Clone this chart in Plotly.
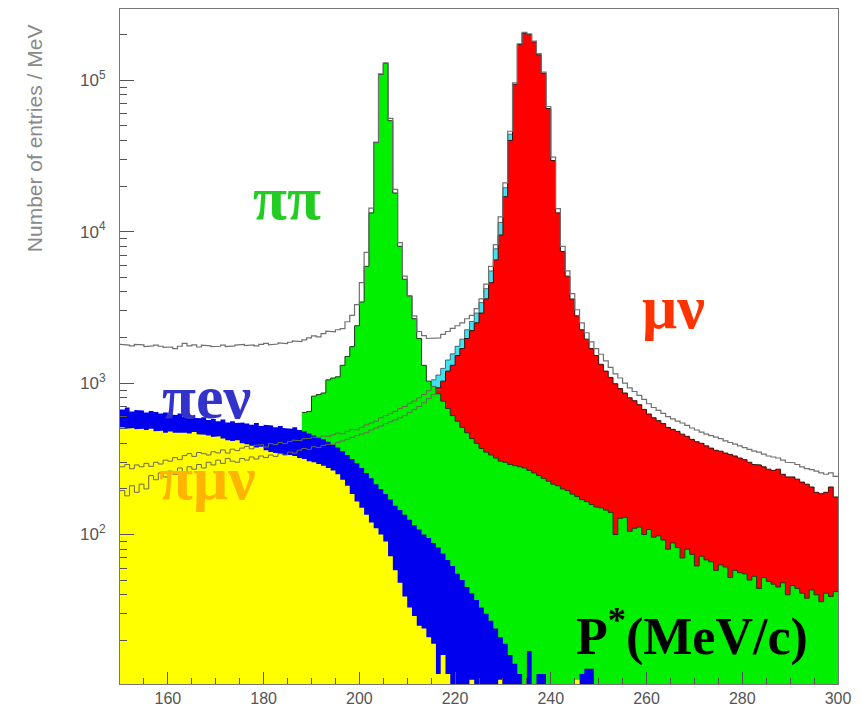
import plotly.graph_objects as go

# ---------------- data (1 MeV bins, value = entries / MeV) ----------------
X_MIN, X_MAX = 150, 300

yellow_start = 150  # pi mu nu
yellow_counts = [
    510, 500, 505, 495, 500, 490, 500, 480, 485, 470,
    478, 470, 475, 470, 465, 475, 460, 455, 450, 440,
    445, 430, 420, 415, 420, 400, 395, 385, 375, 380,
    360, 350, 345, 340, 335, 335, 330, 320, 315, 305,
    300, 292, 285, 275, 265, 250, 230, 210, 185, 165,
    150, 135, 120, 110, 100, 90, 72, 58, 48, 39,
    33, 29, 25, 24, 21, 19, 12, 16, 12, 0,
    0, 0, 0, 11, 0, 0, 0, 0, 0, 11,
    0, 0, 0, 0, 0, 0, 0, 0, 0, 0,
    0, 0, 0, 0, 0, 11]

blue_start = 150  # pi e nu
blue_counts = [
    670, 690, 650, 665, 660, 640, 655, 645, 630, 640,
    620, 615, 630, 600, 610, 590, 585, 595, 570, 580,
    560, 575, 550, 560, 545, 550, 540, 530, 545, 520,
    530, 525, 510, 520, 505, 500, 510, 490, 480, 465,
    450, 440, 425, 410, 395, 375, 355, 335, 315, 295,
    275, 255, 235, 215, 200, 185, 170, 155, 145, 135,
    125, 115, 108, 100, 95, 88, 82, 75, 68, 62,
    55, 50, 45, 41, 37, 33, 30, 27, 24, 21,
    19, 16, 14, 12, 0, 17, 0, 12, 12, 0,
    0, 0, 0, 0, 0, 0, 12, 13, 13, 0]

green_start = 188  # pi pi
green_counts = [
    640, 650, 820, 840, 860, 1050, 1080, 1100, 1310, 1500,
    1740, 2390, 3430, 5900, 13300, 38700, 109000, 129000, 54000, 18000,
    8000, 4850, 3760, 2660, 1970, 1310, 1030,
    950, 850, 760, 680, 610, 560, 510, 470, 430, 400,
    370, 350, 335, 320, 305, 300, 290, 285, 280, 275,
    265, 255, 245, 235, 225, 215, 210, 200, 195, 185,
    178, 170, 165, 158, 152,
    150, 145, 140, 100, 128, 130, 105, 110, 112, 100,
    108, 96, 98, 92, 80, 88, 82, 70, 80, 74,
    62, 72, 68, 66, 58, 63, 61, 52, 58, 56,
    55, 50, 53, 44, 52, 49, 47, 45, 48, 40,
    46, 44, 41, 38, 43, 40, 36, 41, 39, 42]

red_start = 216  # mu nu
red_counts = [
    930, 1030, 1200, 1310, 1520, 1690, 1970, 2220, 2500, 2900,
    3600, 4600, 6500, 9500, 17000, 40000, 94000, 172000, 205000, 200000,
    179000, 147000, 111000, 65000, 29500, 13300, 7400, 5080, 3590, 2780,
    2250, 1950, 1690, 1520,
    1330, 1200, 1090, 990, 920, 860, 800, 765, 720, 670,
    625, 590, 565, 540, 510, 495, 480, 460, 445, 425,
    410, 400, 385, 372, 360, 355, 345, 338, 330, 320,
    312, 300, 290, 288, 280, 270, 265, 270, 250, 240,
    240, 232, 222, 215, 206, 190, 186, 190, 206, 177]

cyan_start = 215
cyan_counts = [1050, 1130, 1250, 1420, 1560, 1750, 1950, 2250, 2550, 2900,
               3400, 4200, 5500, 7700, 11500, 19500, 44000]

total_start = 150
total_counts = [
    1800, 1780, 1760, 1800, 1790, 1740, 1760, 1780, 1750, 1720,
    1730, 1690, 1750, 1830, 1760, 1790, 1730, 1780, 1760, 1740,
    1750, 1780, 1740, 1760, 1780, 1800, 1770, 1790, 1760, 1800,
    1830, 1790, 1810, 1840, 1820, 1860, 1900, 1880, 1930, 1990,
    2050, 2020, 2120, 2200, 2180, 2250,
    2290, 2540, 2800, 3300, 4600, 7300, 14300, 39000, 110000, 130000,
    56000, 19000, 8470, 5080, 3760, 2780, 2190, 2060, 1970, 1970,
    1990, 2100, 2190, 2300, 2390, 2500, 2660, 2800, 3100, 3600,
    4500, 5900, 8200, 12500, 21000, 46000, 96000, 174000, 207000, 202000,
    181000, 150000, 113000, 67000, 31000, 14200, 8000, 5500, 3900, 3050,
    2500, 2150, 1870, 1690,
    1550, 1400, 1270, 1150, 1080, 1000, 930, 880, 830, 780,
    730, 690, 660, 630, 600, 580, 560, 545, 525, 505,
    490, 475, 460, 450, 440, 430, 415, 405, 395, 385,
    375, 365, 355, 350, 340, 330, 325, 320, 310, 300,
    298, 290, 280, 272, 268, 262, 255, 250, 255, 242]

lineA_start = 150
lineA_counts = [
    280, 290, 272, 288, 280, 295, 282, 300, 292, 310,
    305, 322, 312, 332, 342, 328, 348, 342, 335, 352,
    346, 362, 345, 366, 358, 372, 382, 368, 388, 392,
    378, 398, 392, 405, 398, 412, 420, 416, 428, 432,
    440, 436, 448, 445, 455, 468, 462, 480, 495, 490,
    510, 530, 545, 560, 590, 610, 630, 650, 680, 700,
    735, 760, 800, 840, 890, 950]

lineB_start = 150
lineB_counts = [
    195, 180, 210, 190, 215, 200, 245, 230, 255, 240,
    262, 250, 275, 258, 280, 270, 290, 275, 300, 288,
    310, 295, 318, 305, 300, 318, 310, 325, 315, 330,
    322, 335, 328, 342, 335, 350, 345, 360, 370, 365,
    380, 375, 388, 395, 392, 405, 415, 425, 438, 450,
    460, 470, 490, 505, 520, 540, 555, 570, 590, 610,
    640, 670, 700, 740, 790, 840, 900]

x_tick_vals = [160, 180, 200, 220, 240, 260, 280, 300]
y_tick_vals = [1e2, 1e3, 1e4, 1e5]
y_tick_text = ["10<sup>2</sup>", "10<sup>3</sup>", "10<sup>4</sup>", "10<sup>5</sup>"]
y_minor_vals = [m * 10 ** k for k in (1, 2, 3, 4) for m in range(2, 10)] + [2e5]

FLOOR = 1.0  # below the visible range, used to close filled areas


def steps(start, vals):
    xs, ys = [], []
    for i, v in enumerate(vals):
        v = v if v > 0 else FLOOR
        xs += [start + i, start + i + 1]
        ys += [v, v]
    return xs, ys


def filled(start, vals, color):
    xs, ys = steps(start, vals)
    end = start + len(vals)
    return go.Scatter(x=xs + [end, start], y=ys + [FLOOR, FLOOR], mode="lines",
                      fill="toself", fillcolor=color, line=dict(width=0),
                      hoverinfo="skip", showlegend=False)


def outline(start, vals, color, width=1.0):
    xs, ys = steps(start, vals)
    return go.Scatter(x=xs, y=ys, mode="lines", line=dict(color=color, width=width),
                      hoverinfo="skip", showlegend=False)


fig = go.Figure()
fig.add_trace(filled(cyan_start, cyan_counts, "#3fe3f0"))
fig.add_trace(outline(cyan_start, cyan_counts, "#2a4a50", 0.8))
fig.add_trace(filled(red_start, red_counts, "#ff0000"))
fig.add_trace(outline(red_start, red_counts, "#3a1010", 1.0))
fig.add_trace(filled(green_start, green_counts, "#00f000"))
fig.add_trace(outline(green_start, green_counts, "#1a3a1a", 1.0))
fig.add_trace(filled(blue_start, blue_counts, "#0000ee"))
fig.add_trace(filled(yellow_start, yellow_counts, "#ffff00"))
fig.add_trace(outline(lineA_start, lineA_counts, "#6a6a50", 1.0))
fig.add_trace(outline(lineB_start, lineB_counts, "#6a6a50", 1.0))
fig.add_trace(outline(total_start, total_counts, "#707070", 1.2))

serif = "Liberation Serif, Times New Roman, serif"
labels = [
    ("ππ", 184.9, 4.22, "#22cc22", 62),
    ("μν", 265.6, 3.50, "#ff3300", 62),
    ("πeν", 168.0, 2.91, "#3333cc", 62),
    ("πμν", 168.2, 2.37, "#ffb400", 62),
]
for txt, xv, yv, col, sz in labels:
    fig.add_annotation(x=xv, y=yv, text="<b>%s</b>" % txt, showarrow=False,
                       font=dict(family=serif, size=sz, color=col),
                       xanchor="center", yanchor="middle")
fig.add_annotation(x=269.5, y=1.35, text="<b>P<sup>*</sup>(MeV/c)</b>", showarrow=False,
                   font=dict(family=serif, size=52, color="black"),
                   xanchor="center", yanchor="middle")
fig.add_annotation(xref="paper", yref="paper", x=-0.118, y=0.809,
                   text="Number of entries / MeV", textangle=-90, showarrow=False,
                   font=dict(family="Liberation Sans, Arial, sans-serif", size=21, color="#8a8a8a"),
                   xanchor="center", yanchor="middle")

tickfont = dict(family="Liberation Sans, Arial, sans-serif", size=16, color="#555555")
fig.update_xaxes(range=[X_MIN, X_MAX], tickvals=x_tick_vals, ticks="inside", ticklen=12,
                 tickcolor="#555555", tickwidth=1, showgrid=False, zeroline=False,
                 showline=True, linecolor="#777777", linewidth=1, mirror=True,
                 tickfont=tickfont,
                 minor=dict(dtick=5, ticks="inside", ticklen=6, tickcolor="#555555"))
fig.update_yaxes(type="log", range=[1.013, 5.47], tickvals=y_tick_vals, ticktext=y_tick_text,
                 ticks="inside", ticklen=14, tickcolor="#555555", tickwidth=1,
                 showgrid=False, zeroline=False, showline=True, linecolor="#777777",
                 linewidth=1, mirror=True,
                 tickfont=dict(family="Liberation Sans, Arial, sans-serif", size=17,
                               color="#555555"),
                 ticklabelstandoff=10,
                 minor=dict(tickvals=y_minor_vals, ticks="inside", ticklen=7,
                            tickcolor="#555555"))

fig.update_layout(width=862, height=715, margin=dict(l=120, r=24, t=8, b=26),
                  plot_bgcolor="white", paper_bgcolor="white", showlegend=False)

fig.write_html("out.html")
